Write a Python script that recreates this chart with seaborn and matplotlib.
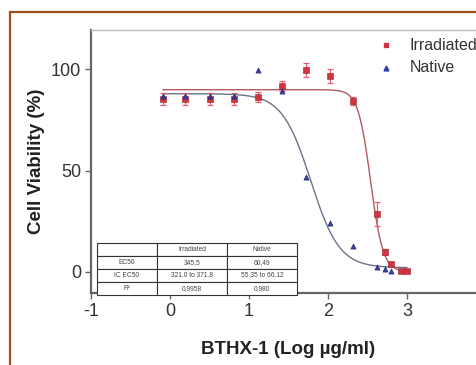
import numpy as np
import pandas as pd
import seaborn as sns
import matplotlib
matplotlib.use("Agg")
import matplotlib.pyplot as plt
from matplotlib.patches import Rectangle
from matplotlib.lines import Line2D

# ---- data ----
irr_x = [-0.09, 0.19, 0.51, 0.81, 1.12, 1.42, 1.72, 2.03, 2.32, 2.62, 2.72, 2.80, 2.92, 3.00]
irr_y = [85.5, 85.5, 85.5, 85.5, 86.5, 92.0, 99.7, 96.8, 84.5, 28.5, 9.8, 3.9, 0.4, 0.2]
irr_err = [3.0, 3.0, 3.0, 3.0, 2.5, 2.5, 3.5, 3.5, 2.0, 6.0, 1.5, 1.0, 0.5, 0.5]

nat_x = [-0.09, 0.19, 0.51, 0.81, 1.12, 1.42, 1.72, 2.03, 2.32, 2.62, 2.72, 2.80]
nat_y = [87.0, 87.0, 87.0, 87.0, 99.5, 89.3, 46.8, 24.0, 12.6, 2.3, 1.6, 0.3]

# fitted sigmoid parameters (top, bottom, log EC50, hill slope)
irr_fit = [90.0, 0.0, np.log10(345.5), -5.5]
nat_fit = [88.0, 2.0, np.log10(60.49), -2.4]

table_cols = ["", "Irradiated", "Native"]
table_rows = [["EC50", "345,5", "60,49"],
              ["IC EC50", "321.0 to 371.8", "55.35 to 66.12"],
              ["R\u00b2", "0,9958", "0,980"]]

xticks = [-1, 0, 1, 2, 3]
yticks = [0, 50, 100]
legend_labels = ["Irradiated", "Native"]

sns.set_theme(style="white")
plt.rcParams['font.family'] = ['Liberation Sans', 'DejaVu Sans']

W, H = 477, 365
fig = plt.figure(figsize=(4.77, 3.65), dpi=100)
# brown frame
fig.patches.append(Rectangle((10.5/W, -0.05), 1.2, (H-11.5)/H + 0.05,
                             transform=fig.transFigure, fill=False,
                             edgecolor="#9a4f1c", linewidth=1.6, zorder=0))

ax = fig.add_axes([91/W, 72/H, 395/W, 263/H])
ax.set_xlim(-1, 4)
ax.set_ylim(-10.5, 119.5)

red = "#d0343f"
blue = "#3040b0"

def sigm(x, p):
    top, bot, lec, h = p
    return bot + (top - bot) / (1 + 10 ** ((lec - x) * h))

xs = np.linspace(-0.09, 3.0, 300)
sns.lineplot(x=xs, y=sigm(xs, nat_fit), ax=ax, color="#6a7488", lw=1.0, zorder=2)
sns.lineplot(x=xs, y=sigm(xs, irr_fit), ax=ax, color="#b05a60", lw=1.0, zorder=2)

ax.errorbar(irr_x, irr_y, yerr=irr_err, fmt="none", ecolor="#e06070",
            elinewidth=0.9, capsize=2.5, capthick=0.9, zorder=3)
sns.scatterplot(x=irr_x, y=irr_y, ax=ax, marker="s", s=14, color=red,
                edgecolor="#a02030", linewidth=0.4, zorder=4)
sns.scatterplot(x=nat_x, y=nat_y, ax=ax, marker="^", s=14, color=blue,
                edgecolor="#202060", linewidth=0.4, zorder=5)

# legend (manual placement)
for (yy, mk, col, lab) in [(45, "s", red, legend_labels[0]), (68, "^", blue, legend_labels[1])]:
    fig.add_artist(Line2D([386/W], [1 - yy/H], marker=mk, markersize=3.5, color=col,
                          linestyle="none", transform=fig.transFigure))
    fig.text(410/W, 1 - yy/H, lab, fontsize=11.5, va="center", ha="left", color="#333333")

# table inset
tab_ax = fig.add_axes([97/W, (H-295)/H, 200/W, 52/H])
tab_ax.set_axis_off()
cell_text = [table_cols] + table_rows
tbl = tab_ax.table(cellText=cell_text, colWidths=[60/200, 70/200, 70/200],
                   loc="center", bbox=[0, 0, 1, 1], cellLoc="center")
tbl.auto_set_font_size(False)
for (r, c), cell in tbl.get_celld().items():
    cell.set_linewidth(0.8)
    cell.set_edgecolor("#333333")
    cell.set_facecolor("white")
    cell.get_text().set_fontsize(4.8)
    cell.get_text().set_color("#444444")

# axes styling
for s in ["left", "bottom"]:
    ax.spines[s].set_color("#666666")
    ax.spines[s].set_linewidth(1.6)
ax.spines["top"].set_color("#bbbbbb")
ax.spines["top"].set_linewidth(1.0)
ax.spines["right"].set_visible(False)
ax.set_xticks(xticks)
ax.set_xticklabels([str(t) for t in xticks])
ax.set_yticks(yticks)
ax.tick_params(axis="both", which="major", direction="out", length=4, width=1,
               color="#666666", labelsize=13, labelcolor="#333333",
               left=True, bottom=True, pad=3)
ax.set_xlabel("BTHX-1 (Log \u00b5g/ml)", fontsize=13.5, fontweight="bold",
              color="#222222", labelpad=15)
ax.set_ylabel("Cell Viability (%)", fontsize=13.5, fontweight="bold",
              color="#222222", labelpad=4)
ax.set_facecolor("white")

fig.savefig("out.png", dpi=100)
